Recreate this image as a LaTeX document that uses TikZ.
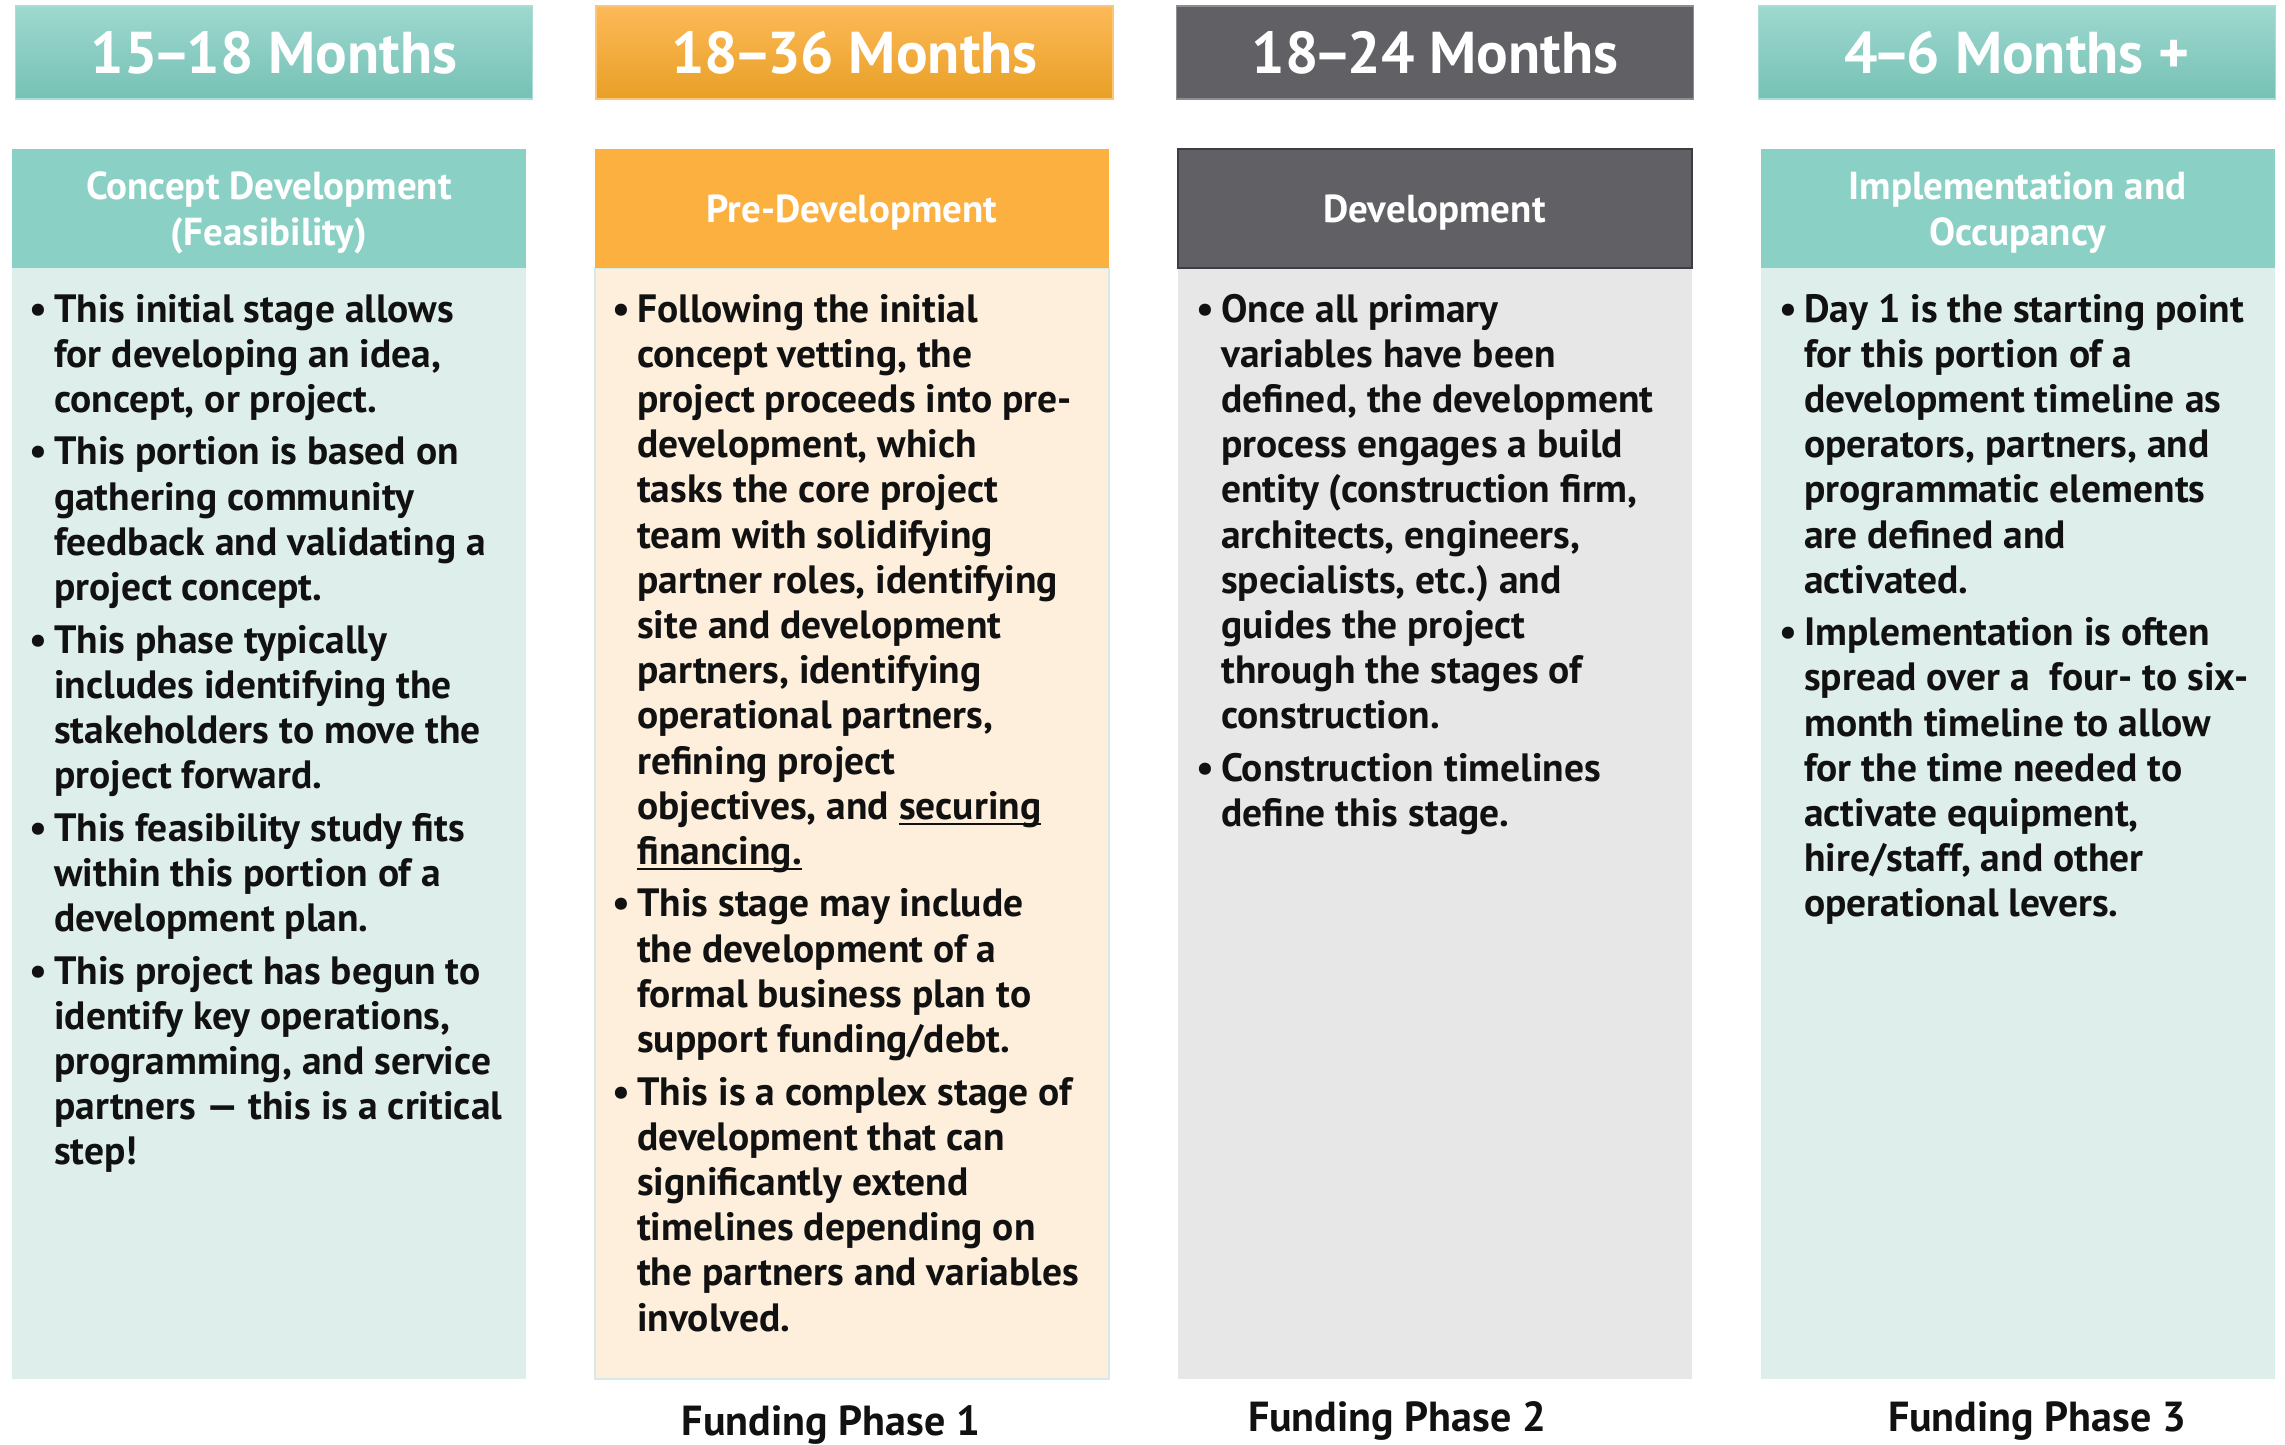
\documentclass[tikz,border=0pt]{standalone}
\usepackage{fontspec}
\setmainfont{PT Sans}
\definecolor{tealhT}{HTML}{9ED8CF}
\definecolor{tealhB}{HTML}{76C1B5}
\definecolor{tealline}{HTML}{A9DDD5}
\definecolor{orghT}{HTML}{FDB958}
\definecolor{orghB}{HTML}{E8A026}
\definecolor{orgline}{HTML}{FBC57A}
\definecolor{greyh}{HTML}{606065}
\definecolor{greyline}{HTML}{8E8E92}
\definecolor{greydark}{HTML}{3E3E42}
\definecolor{tealsub}{HTML}{8BD0C5}
\definecolor{orgsub}{HTML}{FBB040}
\definecolor{tealbody}{HTML}{DEEFEB}
\definecolor{orgbody}{HTML}{FDEFDC}
\definecolor{orgbodyline}{HTML}{D6EBE5}
\definecolor{greybody}{HTML}{E7E7E7}
\definecolor{txt}{HTML}{111111}
\frenchspacing
\newcommand\bodyfont{\fontsize{39.5}{45.2}\selectfont\bfseries}
\newcommand\NL{\hfil\break}
\newcommand\dsh{\kern-5pt–\kern-5pt}
\newcommand\bul[1]{\noindent\hangindent=25pt\hangafter=1\hbox to 25pt{\textbullet\hfil}#1\par}
\newcommand\ulword[1]{\leavevmode\setbox0\hbox{#1}\rlap{\rule[-6pt]{\wd0}{2.2pt}}\box0}
\newcommand\colbox[1]{\parbox[t]{540pt}{\raggedright\frenchspacing\setlength{\parskip}{7.3pt}\setlength{\parindent}{0pt}#1}}
\tikzset{
  hdrbox/.style={minimum width=517pt, minimum height=93pt, inner sep=0pt, line width=1.5pt, text=white, font=\fontsize{59}{60}\selectfont\bfseries},
  subbox/.style={minimum width=514pt, minimum height=119pt, inner sep=0pt, text=white, align=center, font=\fontsize{39}{46}\selectfont\bfseries},
  bodybox/.style={minimum width=514pt, minimum height=1111pt, inner sep=0pt},
  bodytxt/.style={anchor=base west, inner sep=0pt, text=txt, font=\bodyfont},
  subtxt/.style={inner sep=0pt, text=white, align=center, font=\fontsize{39}{46}\selectfont\bfseries},
  fundtxt/.style={anchor=base, inner sep=0pt, text=txt, font=\fontsize{42}{46}\selectfont\bfseries}
}
\begin{document}
\begin{tikzpicture}[x=1pt,y=-1pt]
\useasboundingbox (0,0) rectangle (2285,1444);
% headers
\node[hdrbox, top color=tealhT, bottom color=tealhB, draw=tealline] (h1) at (274,52.5) {15\dsh 18 Months};
\node[hdrbox, top color=orghT, bottom color=orghB, draw=orgline] (h2) at (854.5,52.5) {18\dsh 36 Months};
\node[hdrbox, fill=greyh, draw=greyline] (h3) at (1435,52.5) {18\dsh 24 Months};
\node[hdrbox, top color=tealhT, bottom color=tealhB, draw=tealline] (h4) at (2017,52.5) {4\dsh 6 Months +};
% bodies
\node[bodybox, fill=tealbody] (b1) at (269,823.5) {};
\node[bodybox, fill=orgbody, draw=orgbodyline, line width=2pt] (b2) at (852,823.5) {};
\node[bodybox, fill=greybody] (b3) at (1434.5,823.5) {};
\node[bodybox, fill=tealbody] (b4) at (2017.5,823.5) {};
% sub headers
\node[subbox, fill=tealsub] (s1) at (269,208.5) {};
\node[subbox, fill=orgsub] (s2) at (852,208.5) {};
\node[subbox, fill=greyh, draw=greydark, line width=2pt] (s3) at (1434.5,208.5) {};
\node[subbox, fill=tealsub] (s4) at (2017.5,208.5) {};
\node[subtxt] (s1t) at (269,213) {Concept Development\\(Feasibility)};
\node[subtxt] (s2t) at (852,213) {Pre-Development};
\node[subtxt] (s3t) at (1434.5,213) {Development};
\node[subtxt] (s4t) at (2017.5,213) {Implementation and\\Occupancy};
% texts
\node[bodytxt] (t1) at (29,322) {\colbox{%
\bul{This initial stage allows\NL for developing an idea,\NL concept, or project.}
\bul{This portion is based on\NL gathering community\NL feedback and validating a\NL project concept.}
\bul{This phase typically\NL includes identifying the\NL stakeholders to move the\NL project forward.}
\bul{This feasibility study fits\NL within this portion of a\NL development plan.}
\bul{This project has begun to\NL identify key operations,\NL programming, and service\NL partners — this is a critical\NL step!}}};
\node[bodytxt] (t2) at (612,322) {\colbox{%
\bul{Following the initial\NL concept vetting, the\NL project proceeds into pre-\NL development, which\NL tasks the core project\NL team with solidifying\NL partner roles, identifying\NL site and development\NL partners, identifying\NL operational partners,\NL refining project\NL objectives, and \ulword{securing}\NL \ulword{financing.}}
\bul{This stage may include\NL the development of a\NL formal business plan to\NL support funding/debt.}
\bul{This is a complex stage of\NL development that can\NL significantly extend\NL timelines depending on\NL the partners and variables\NL involved.}}};
\node[bodytxt] (t3) at (1196,322) {\colbox{%
\bul{Once all primary\NL variables have been\NL defined, the development\NL process engages a build\NL entity (construction firm,\NL architects, engineers,\NL specialists, etc.) and\NL guides the project\NL through the stages of\NL construction.}
\bul{Construction timelines\NL define this stage.}}};
\node[bodytxt] (t4) at (1779,322) {\colbox{%
\bul{Day 1 is the starting point\NL for this portion of a\NL development timeline as\NL operators, partners, and\NL programmatic elements\NL are defined and\NL activated.}
\bul{Implementation is often\NL spread over a\ \ four- to six-\NL month timeline to allow\NL for the time needed to\NL activate equipment,\NL hire/staff, and other\NL operational levers.}}};
% funding phases
\node[fundtxt] (f1) at (831,1435) {Funding Phase 1};
\node[fundtxt] (f2) at (1397,1431) {Funding Phase 2};
\node[fundtxt] (f3) at (2037,1431) {Funding Phase 3};
\end{tikzpicture}
\end{document}
